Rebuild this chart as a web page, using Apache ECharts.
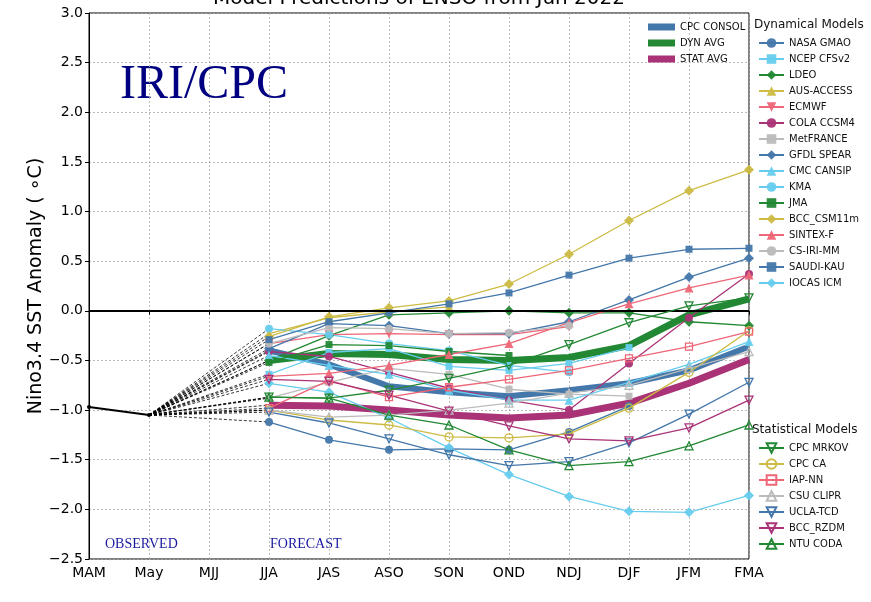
<!DOCTYPE html>
<html><head><meta charset="utf-8">
<script src="https://cdn.jsdelivr.net/npm/echarts/dist/echarts.min.js"></script>
<style>html,body{margin:0;padding:0;background:#fff}#c{width:871px;height:602px}</style>
</head><body><div id="c"></div>
<script>
// ---------- data ----------
const categories = ['MAM','May','MJJ','JJA','JAS','ASO','SON','OND','NDJ','DJF','JFM','FMA'];
const observed = [-0.97, -1.05];
const forecastStart = 3; // index of JJA

// Dynamical models (JJA ... FMA)
const nasaGmao   = [-1.12,-1.30,-1.40,-1.39,-1.40,-1.22,-0.96];
const ncepCfsv2  = [-0.64,-0.42,-0.38,-0.56,-0.60,-0.53,-0.37];
const ldeo       = [-0.50,-0.25,-0.04,-0.02,0.00,-0.02,-0.02,-0.11,-0.15];
const ausAccess  = [-0.23,-0.07,-0.01,0.04];
const ecmwf      = [-0.33,-0.24,-0.23,-0.24,-0.24,-0.16];
const colaCcsm4  = [-0.41,-0.46,-0.62,-0.78,-0.90,-1.00,-0.53,-0.07,0.37];
const metFrance  = [-0.88,-0.72,-0.58,-0.64,-0.79,-0.84,-0.86];
const gfdlSpear  = [-0.38,-0.13,-0.15,-0.23,-0.23,-0.11,0.11,0.34,0.53];
const cmcCansip  = [-0.45,-0.55,-0.64,-0.80,-0.90,-0.90,-0.72,-0.54,-0.31];
const kma        = [-0.18,-0.24,-0.33,-0.40,-0.55,-0.62];
const jma        = [-0.52,-0.34,-0.35,-0.41,-0.45];
const bccCsm11m  = [-0.26,-0.06,0.03,0.10,0.27,0.57,0.91,1.21,1.42];
const sintexF    = [-0.66,-0.63,-0.55,-0.44,-0.33,-0.12,0.07,0.23,0.36];
const csIriMm    = [-0.33,-0.17,-0.18,-0.23,-0.22,-0.15];
const saudiKau   = [-0.29,-0.11,-0.02,0.07,0.18,0.36,0.53,0.62,0.63];
const iocasIcm   = [-0.73,-0.82,-1.08,-1.38,-1.65,-1.87,-2.02,-2.03,-1.86];
// Statistical models
const cpcMrkov   = [-0.87,-0.88,-0.80,-0.68,-0.55,-0.34,-0.12,0.05,0.13];
const cpcCa      = [-1.00,-1.10,-1.15,-1.27,-1.28,-1.24,-0.98,-0.62,-0.20];
const iapNn      = [-0.98,-0.70,-0.87,-0.77,-0.69,-0.60,-0.48,-0.36,-0.21];
const csuClipr   = [-1.00,-1.07,-1.05,-1.00,-0.93,-0.83,-0.75,-0.58,-0.41];
const uclaTcd    = [-1.02,-1.13,-1.29,-1.45,-1.56,-1.52,-1.33,-1.04,-0.72];
const bccRzdm    = [-0.69,-0.71,-0.85,-1.01,-1.16,-1.29,-1.31,-1.18,-0.90];
const ntuCoda    = [-0.87,-0.88,-1.05,-1.15,-1.40,-1.56,-1.52,-1.36,-1.15];
// Averages
const cpcConsol  = [-0.40,-0.54,-0.76,-0.82,-0.86,-0.80,-0.73,-0.60,-0.36];
const dynAvg     = [-0.50,-0.43,-0.44,-0.49,-0.50,-0.47,-0.35,-0.04,0.12];
const statAvg    = [-0.95,-0.96,-1.00,-1.05,-1.08,-1.05,-0.93,-0.73,-0.49];

// ---------- styles ----------
const BLUE='#4477AA', CYAN='#66CCEE', GREEN='#228833', YEL='#CCBB44', RED='#EE6677', PUR='#AA3377', GREY='#BBBBBB';
const DOWN='path://M0,0L10,0L5,9Z';
const dynModels = [
  ['NASA GMAO', nasaGmao, BLUE, 'circle', 8],
  ['NCEP CFSv2', ncepCfsv2, CYAN, 'rect', 7],
  ['LDEO', ldeo, GREEN, 'diamond', 10],
  ['AUS-ACCESS', ausAccess, YEL, 'triangle', 9],
  ['ECMWF', ecmwf, RED, DOWN, 9],
  ['COLA CCSM4', colaCcsm4, PUR, 'circle', 8],
  ['MetFRANCE', metFrance, GREY, 'rect', 7],
  ['GFDL SPEAR', gfdlSpear, BLUE, 'diamond', 10],
  ['CMC CANSIP', cmcCansip, CYAN, 'triangle', 9],
  ['KMA', kma, CYAN, 'circle', 8],
  ['JMA', jma, GREEN, 'rect', 7],
  ['BCC_CSM11m', bccCsm11m, YEL, 'diamond', 10],
  ['SINTEX-F', sintexF, RED, 'triangle', 9],
  ['CS-IRI-MM', csIriMm, GREY, 'circle', 8],
  ['SAUDI-KAU', saudiKau, BLUE, 'rect', 7],
  ['IOCAS ICM', iocasIcm, CYAN, 'diamond', 10]
];
const statModels = [
  ['CPC MRKOV', cpcMrkov, GREEN, DOWN, 8],
  ['CPC CA', cpcCa, YEL, 'circle', 8],
  ['IAP-NN', iapNn, RED, 'rect', 7],
  ['CSU CLIPR', csuClipr, GREY, 'triangle', 8],
  ['UCLA-TCD', uclaTcd, BLUE, DOWN, 8],
  ['BCC_RZDM', bccRzdm, PUR, DOWN, 8],
  ['NTU CODA', ntuCoda, GREEN, 'triangle', 8]
];
const avgs = [
  ['CPC CONSOL', cpcConsol, BLUE, 6],
  ['DYN AVG', dynAvg, GREEN, 7],
  ['STAT AVG', statAvg, PUR, 7]
];

function fc(vals){ return Array(forecastStart).fill(null).concat(vals); }
function connector(vals){
  const d = Array(categories.length).fill(null);
  d[1] = observed[1]; d[forecastStart] = vals[0];
  return {type:'line', data:d, connectNulls:true, symbol:'none', silent:true, z:1,
    lineStyle:{color:'#000', width:0.8, type:[3,2]}, emphasis:{disabled:true}};
}

const series = [];
[...dynModels, ...statModels, ...avgs].forEach(m => series.push(connector(m[1])));
series.push({type:'line', name:'Observed', data: observed, symbol:'circle', symbolSize:4, z:3,
  lineStyle:{color:'#000', width:2}, itemStyle:{color:'#000'}, silent:true,
  markLine:{silent:true, symbol:'none', label:{show:false}, lineStyle:{color:'#000', width:2, type:'solid'}, data:[{yAxis:0}]}});
avgs.forEach(([n,v,c,w]) => series.push({type:'line', name:n, data:fc(v), symbol:'none', z:3,
  lineStyle:{color:c, width:w}, itemStyle:{color:c}, emphasis:{disabled:true}}));
dynModels.forEach(([n,v,c,s,sz]) => series.push({type:'line', name:n, data:fc(v), symbol:s, symbolSize:sz, z:4,
  showAllSymbol:true, lineStyle:{color:c, width:1.3}, itemStyle:{color:c, opacity:0.95}, emphasis:{disabled:true}}));
statModels.forEach(([n,v,c,s,sz]) => series.push({type:'line', name:n, data:fc(v), symbol:s, symbolSize:sz, z:5,
  showAllSymbol:true, lineStyle:{color:c, width:1.3}, itemStyle:{color:'rgba(255,255,255,0)', borderColor:c, borderWidth:1.3},
  emphasis:{disabled:true}}));

const legendText = {fontSize:10, color:'#111', fontFamily:'DejaVu Sans', lineHeight:12};
const option = {
  animation:false,
  backgroundColor:'#fff',
  grid:{left:89, right:122, top:13, bottom:43, show:true, borderColor:'#000', borderWidth:1, backgroundColor:'transparent'},
  xAxis:{type:'category', data:categories, boundaryGap:false,
    axisLine:{lineStyle:{color:'#000', width:1}},
    axisTick:{show:true, length:4, lineStyle:{color:'#000'}},
    axisLabel:{color:'#000', fontSize:14, fontFamily:'DejaVu Sans', margin:7},
    splitLine:{show:true, lineStyle:{color:'#aaa', type:[2,2], width:0.8}}},
  yAxis:{type:'value', min:-2.5, max:3, interval:0.5,
    name:'Nino3.4 SST Anomaly ( \u2218C)', nameLocation:'middle', nameGap:43, nameRotate:90, nameMoveOverlap:false,
    nameTextStyle:{fontSize:19, color:'#000', fontFamily:'DejaVu Sans'},
    axisLine:{show:true, lineStyle:{color:'#000'}},
    axisTick:{show:true, length:4, lineStyle:{color:'#000'}},
    axisLabel:{color:'#000', fontSize:14, fontFamily:'DejaVu Sans', margin:6,
      formatter:v => v.toFixed(1).replace('-', '\u2212')},
    splitLine:{show:true, lineStyle:{color:'#aaa', type:[2,2], width:0.8}}},
  legend:[
    {data:avgs.map(a=>a[0]), orient:'vertical', left:648, top:21, padding:0, icon:'rect', itemWidth:27, itemHeight:7, itemGap:4,
      textStyle:legendText, selectedMode:false},
    {data:dynModels.map(a=>a[0]), orient:'vertical', left:758, top:37, padding:0, itemWidth:25, itemHeight:12, itemGap:4,
      textStyle:legendText, selectedMode:false},
    {data:statModels.map(a=>a[0]), orient:'vertical', left:758, top:442, padding:0, itemWidth:25, itemHeight:12, itemGap:4,
      textStyle:legendText, selectedMode:false}
  ],
  graphic:[
    {type:'text', left:754, top:19, style:{text:'Dynamical Models', fontSize:12, fill:'#111', fontFamily:'DejaVu Sans'}},
    {type:'text', left:752, top:424, style:{text:'Statistical Models', fontSize:12, fill:'#111', fontFamily:'DejaVu Sans'}},
    {type:'text', x:419, y:9, style:{text:'Model Predictions of ENSO from Jun 2022', fontSize:20, fill:'#000', fontFamily:'DejaVu Sans', align:'center', verticalAlign:'bottom'}},
    {type:'text', left:120, top:61, style:{text:'IRI/CPC', fontSize:48, fill:'#000080', fontFamily:'Liberation Serif'}},
    {type:'text', left:105, top:537, style:{text:'OBSERVED', fontSize:14, fill:'#1a1aa0', fontFamily:'Liberation Serif'}},
    {type:'text', left:270, top:537, style:{text:'FORECAST', fontSize:14, fill:'#1a1aa0', fontFamily:'Liberation Serif'}}
  ],
  series
};
const chart = echarts.init(document.getElementById('c'), null, {renderer:'canvas'});
chart.setOption(option);
</script></body></html>
